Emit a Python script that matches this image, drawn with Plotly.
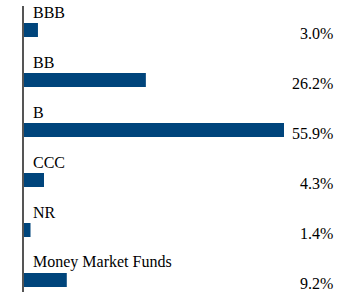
import plotly.graph_objects as go

categories = ["BBB", "BB", "B", "CCC", "NR", "Money Market Funds"]
values = [3.0, 26.2, 55.9, 4.3, 1.4, 9.2]
value_labels = ["3.0%", "26.2%", "55.9%", "4.3%", "1.4%", "9.2%"]

bar_color = "#00457C"
font_family = "Liberation Serif"

fig = go.Figure()
fig.add_trace(go.Bar(
    x=values,
    y=categories,
    orientation="h",
    width=0.28,
    marker=dict(color=bar_color, line=dict(width=0)),
    hoverinfo="skip",
))

annotations = []
for cat, lab in zip(categories, value_labels):
    annotations.append(dict(
        x=0, y=cat, xref="x", yref="y", text=cat, showarrow=False,
        xanchor="left", yanchor="middle", xshift=7, yshift=18,
        font=dict(family=font_family, size=16, color="black"),
    ))
    annotations.append(dict(
        x=(335 - 24) / 336, y=cat, xref="paper", yref="y", text=lab, showarrow=False,
        xanchor="right", yanchor="middle", yshift=-3,
        font=dict(family=font_family, size=16, color="black"),
    ))

fig.update_layout(
    width=360, height=296,
    margin=dict(l=24, r=0, t=6, b=4, pad=0),
    paper_bgcolor="white", plot_bgcolor="white",
    showlegend=False,
    font=dict(family=font_family),
    xaxis=dict(range=[0, 72.24], visible=False, fixedrange=True),
    yaxis=dict(
        type="category", categoryorder="array", categoryarray=categories,
        range=[5.24, -0.48], showticklabels=False, ticks="",
        showgrid=False, zeroline=False,
        showline=True, linecolor="#555555", linewidth=1.5, fixedrange=True,
    ),
    annotations=annotations,
)

fig.write_html("out.html")
